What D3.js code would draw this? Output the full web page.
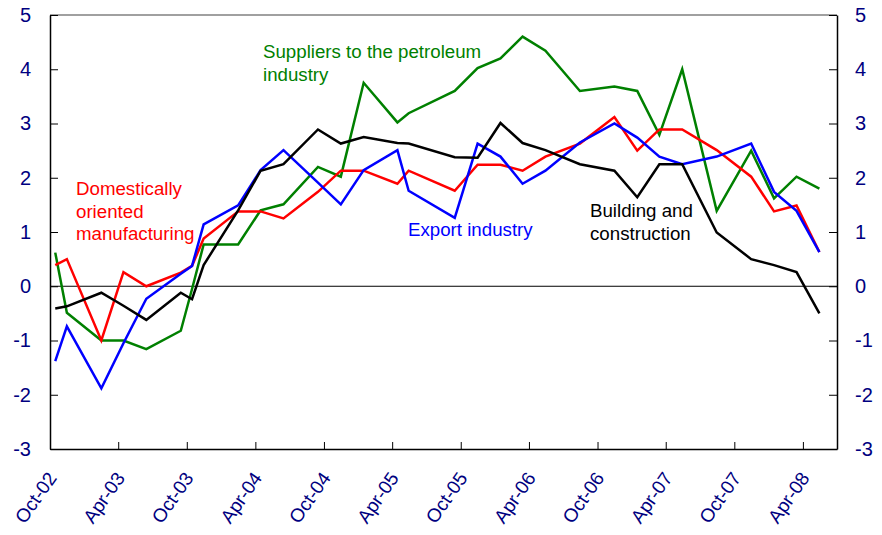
<!DOCTYPE html>
<html>
<head>
<meta charset="utf-8">
<script src="https://cdn.jsdelivr.net/npm/d3@7"></script>
<style>
  body { margin: 0; background: #fff; }
  svg { display: block; font-family: "Liberation Sans", Arial, sans-serif; }
</style>
</head>
<body>
<svg id="chart" width="882" height="535"></svg>
<script>
// survey months (points drawn mid-month)
const dates = ["2002-10", "2002-11", "2003-02", "2003-04", "2003-06", "2003-09", "2003-10", "2003-11",
    "2004-02", "2004-04", "2004-06", "2004-09", "2004-11", "2005-01", "2005-04", "2005-05",
    "2005-09", "2005-11", "2006-01", "2006-03", "2006-05", "2006-08", "2006-11", "2007-01",
    "2007-03", "2007-05", "2007-08", "2007-11", "2008-01", "2008-03", "2008-05"];

const petroleum = [0.62, -0.49, -1.0, -1.0, -1.16, -0.82, -0.05, 0.77, 0.77, 1.40, 1.51, 2.20, 2.02, 3.75, 3.02, 3.19,
    3.6, 4.02, 4.2, 4.6, 4.34, 3.60, 3.68, 3.60, 2.79, 4.0, 1.39, 2.50, 1.62, 2.02, 1.80];
const domestic = [0.39, 0.50, -1.0, 0.26, 0.0, 0.25, 0.375, 0.88, 1.38, 1.38, 1.25, 1.74, 2.13, 2.13, 1.89, 2.13,
    1.76, 2.24, 2.24, 2.13, 2.39, 2.63, 3.12, 2.50, 2.89, 2.89, 2.51, 2.02, 1.38, 1.49, 0.63];
const exportInd = [-1.38, -0.74, -1.88, -1.05, -0.23, 0.23, 0.375, 1.14, 1.49, 2.14, 2.51, 1.91, 1.51, 2.14, 2.51, 1.76,
    1.26, 2.63, 2.39, 1.89, 2.13, 2.65, 3.0, 2.74, 2.39, 2.25, 2.39, 2.63, 1.74, 1.39, 0.63];
const building = [-0.41, -0.37, -0.12, -0.36, -0.62, -0.12, -0.24, 0.39, 1.40, 2.13, 2.25, 2.89, 2.63, 2.75, 2.64, 2.63,
    2.38, 2.37, 3.01, 2.64, 2.51, 2.25, 2.13, 1.64, 2.25, 2.25, 0.99, 0.50, 0.39, 0.26, -0.50];

const tickLabels = ["Oct-02", "Apr-03", "Oct-03", "Apr-04", "Oct-04", "Apr-05", "Oct-05",
    "Apr-06", "Oct-06", "Apr-07", "Oct-07", "Apr-08"];
const yTicks = [-3, -2, -1, 0, 1, 2, 3, 4, 5];

const series = [
    { name: "petroleum", values: petroleum, color: "#008000" },
    { name: "domestic", values: domestic, color: "#ff0000" },
    { name: "export", values: exportInd, color: "#0000ff" },
    { name: "building", values: building, color: "#000000" }
];

const labels = [
    { lines: ["Suppliers to the petroleum", "industry"], x: 263, y: 58, color: "#008000" },
    { lines: ["Domestically", "oriented", "manufacturing"], x: 76, y: 195, color: "#ff0000" },
    { lines: ["Export industry"], x: 408, y: 236, color: "#0000ff" },
    { lines: ["Building and", "construction"], x: 590, y: 217, color: "#000000" }
];

const axisColor = "#000080";
const plot = { left: 50, right: 837, top: 15, bottom: 449 };

const svg = d3.select("#chart");

const parseMonth = d3.timeParse("%Y-%m");
const parseTick = d3.timeParse("%b-%y");
const mid = d => d3.timeDay.offset(parseMonth(d), 14);

const x = d3.scaleTime()
    .domain([new Date(2002, 9, 1), new Date(2008, 6, 1)])
    .range([plot.left, plot.right]);

const y = d3.scaleLinear()
    .domain([-3, 5])
    .range([plot.bottom, plot.top]);

// top border
svg.append("line")
    .attr("x1", plot.left).attr("x2", plot.right)
    .attr("y1", plot.top).attr("y2", plot.top)
    .attr("stroke", "#808080").attr("stroke-width", 1.5);

// zero line
svg.append("line")
    .attr("x1", plot.left).attr("x2", plot.right)
    .attr("y1", y(0)).attr("y2", y(0))
    .attr("stroke", "#000").attr("stroke-width", 1);

const styleAxis = g => {
    g.select(".domain").attr("stroke", "#000").attr("stroke-width", 1.5);
    g.selectAll(".tick line").attr("stroke", "#000");
    g.selectAll(".tick text").attr("fill", axisColor);
};

// plain hyphen for negatives, as in the original
const plain = d => String(d);

svg.append("g")
    .attr("transform", `translate(${plot.left},0)`)
    .call(d3.axisLeft(y).tickValues(yTicks).tickFormat(plain)
        .tickSize(-8).tickSizeOuter(0).tickPadding(19))
    .call(styleAxis)
    .selectAll("text").attr("font-size", 20);

svg.append("g")
    .attr("transform", `translate(${plot.right},0)`)
    .call(d3.axisRight(y).tickValues(yTicks).tickFormat(plain)
        .tickSize(-8).tickSizeOuter(0).tickPadding(18))
    .call(styleAxis)
    .selectAll("text").attr("font-size", 20);

const xAxis = svg.append("g")
    .attr("transform", `translate(0,${plot.bottom})`)
    .call(d3.axisBottom(x)
        .tickValues(tickLabels.map(parseTick))
        .tickFormat(d3.timeFormat("%b-%y"))
        .tickSize(-7).tickSizeOuter(0))
    .call(styleAxis);

xAxis.selectAll(".tick text")
    .attr("font-size", 19)
    .attr("x", 0).attr("y", 0).attr("dy", 0)
    .attr("text-anchor", "end")
    .attr("transform", "translate(7,29) rotate(-55)");

// d3 axes set a font-family on the group; let the svg font apply
svg.selectAll("g").attr("font-family", null);

const line = d3.line()
    .x((d, i) => x(mid(dates[i])))
    .y(d => y(d));

svg.selectAll("path.series")
    .data(series)
    .join("path")
        .classed("series", true)
        .attr("d", d => line(d.values))
        .attr("fill", "none")
        .attr("stroke", d => d.color)
        .attr("stroke-width", 2.5)
        .attr("stroke-linejoin", "miter");

const notes = svg.selectAll("text.note")
    .data(labels)
    .join("text")
        .classed("note", true)
        .attr("x", d => d.x)
        .attr("y", d => d.y)
        .attr("fill", d => d.color)
        .attr("font-size", 18.7);

notes.selectAll("tspan")
    .data(d => d.lines.map(t => ({ t, x: d.x })))
    .join("tspan")
        .attr("x", d => d.x)
        .attr("dy", (d, i) => i === 0 ? 0 : 22.5)
        .text(d => d.t);
</script>
</body>
</html>
